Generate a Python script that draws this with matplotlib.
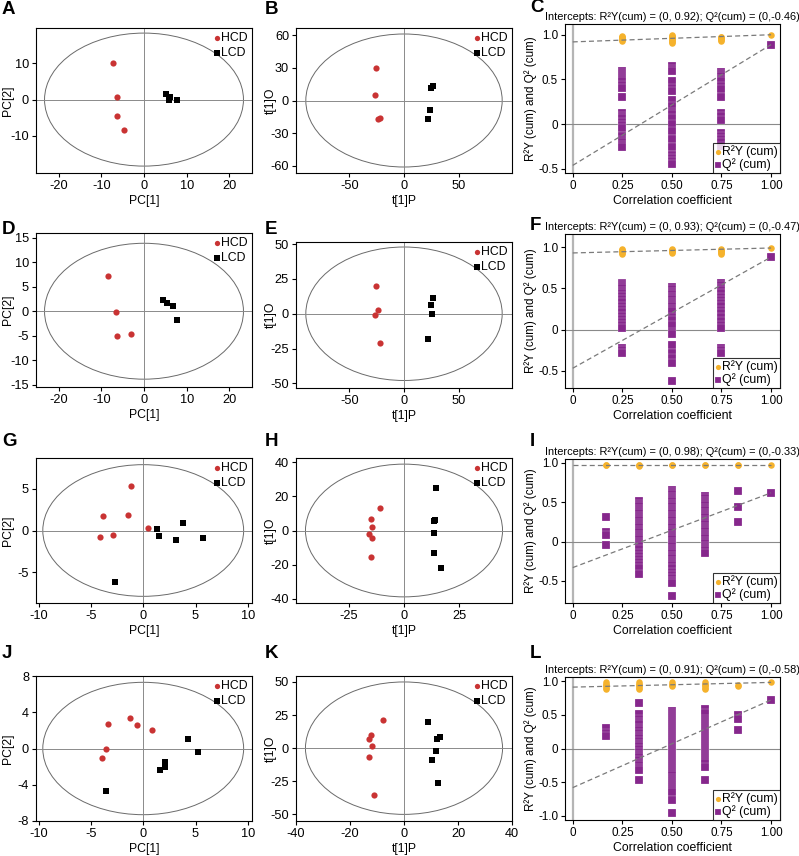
import matplotlib
matplotlib.use('Agg')
import matplotlib.pyplot as plt
from matplotlib.patches import Ellipse

plt.rcParams['font.family'] = ['Liberation Sans', 'DejaVu Sans']
plt.rcParams['axes.unicode_minus'] = False
plt.rcParams['font.size'] = 8

# ---------------- data ----------------
groups = ['HCD', 'LCD']

# A (PCA)
A_hcd_x = [-7.2, -6.4, -6.4, -4.8]
A_hcd_y = [10.1, 0.8, -4.5, -8.4]
A_lcd_x = [5.1, 6.2, 5.9, 7.7]
A_lcd_y = [1.5, 0.8, 0.0, -0.2]
# B (OPLS-DA)
B_hcd_x = [-25.3, -26.8, -24.0, -21.6]
B_hcd_y = [29.5, 4.6, -17.4, -16.5]
B_lcd_x = [26.5, 25.0, 23.8, 22.0]
B_lcd_y = [13.7, 11.6, -9.1, -16.8]
# D
D_hcd_x = [-8.4, -6.5, -6.4, -3.1]
D_hcd_y = [7.3, -0.2, -5.1, -4.6]
D_lcd_x = [4.4, 5.5, 6.8, 7.8]
D_lcd_y = [2.2, 1.7, 1.1, -1.8]
# E
E_hcd_x = [-25.3, -24.0, -26.8, -21.6]
E_hcd_y = [19.9, 2.4, -0.7, -21.3]
E_lcd_x = [26.5, 24.7, 25.6, 22.0]
E_lcd_y = [11.5, 6.5, 0.0, -18.2]
# G
G_hcd_x = [-1.15, -3.8, -1.5, 0.5, -2.9, -4.1]
G_hcd_y = [5.34, 1.75, 1.83, 0.28, -0.56, -0.8]
G_lcd_x = [1.3, 1.5, 3.76, 3.1, 5.7, -2.7]
G_lcd_y = [0.2, -0.64, 0.88, -1.1, -0.92, -6.2]
# H
H_hcd_x = [-11.0, -14.8, -14.4, -15.9, -14.7, -14.8]
H_hcd_y = [13.4, 6.8, 2.0, -1.8, -4.7, -15.6]
H_lcd_x = [14.5, 13.9, 13.7, 13.7, 13.6, 16.9]
H_lcd_y = [24.8, 6.2, 5.6, -1.4, -13.3, -22.0]
# J
J_hcd_x = [-3.4, -1.3, -0.64, 0.86, -3.6, -3.9]
J_hcd_y = [2.7, 3.36, 2.6, 2.0, 0.0, -1.1]
J_lcd_x = [4.3, 5.2, 2.07, 2.07, 1.56, -3.6]
J_lcd_y = [1.1, -0.37, -1.55, -2.1, -2.4, -4.7]
# K
K_hcd_x = [-7.9, -12.3, -13.1, -11.7, -13.1, -11.0]
K_hcd_y = [21.0, 9.8, 6.6, 1.8, -6.8, -35.0]
K_lcd_x = [8.8, 12.3, 13.5, 11.9, 10.5, 12.5]
K_lcd_y = [19.4, 6.6, 8.1, -1.8, -8.6, -26.3]

# Permutation tests
C_corr = [0.25, 0.50, 0.75, 1.00]
C_r2 = [[0.93, 0.94, 0.95, 0.96, 0.97, 0.98, 0.99],
        [0.91, 0.92, 0.93, 0.94, 0.95, 0.96, 0.97, 0.98, 0.99, 1.00],
        [0.93, 0.94, 0.95, 0.96, 0.97, 0.98],
        [1.00]]
C_q2 = [[0.59, 0.57, 0.55, 0.53, 0.51, 0.48, 0.44, 0.40, 0.30, 0.12, 0.09, 0.07, 0.03,
         -0.01, -0.04, -0.13, -0.18, -0.20, -0.23, -0.25],
        [0.65, 0.62, 0.59, 0.48, 0.40, 0.37, 0.27, 0.20, 0.14, 0.11, 0.07, 0.0, -0.08,
         -0.16, -0.25, -0.34, -0.38, -0.41, -0.44],
        [0.58, 0.56, 0.54, 0.51, 0.48, 0.43, 0.39, 0.30, 0.12, 0.09, 0.05, -0.10, -0.13,
         -0.16, -0.20, -0.24],
        [0.89]]
C_int = (0.92, -0.46)

F_corr = [0.25, 0.50, 0.75, 1.00]
F_r2 = [[0.92, 0.93, 0.94, 0.95, 0.96, 0.97, 0.98],
        [0.93, 0.94, 0.95, 0.96, 0.97, 0.98],
        [0.92, 0.93, 0.94, 0.95, 0.96, 0.97, 0.98],
        [0.99]]
F_q2 = [[0.57, 0.55, 0.53, 0.51, 0.47, 0.44, 0.41, 0.37, 0.33, 0.29, 0.25, 0.21, 0.17,
         0.13, 0.09, 0.05, 0.02, -0.22, -0.25, -0.28],
        [0.52, 0.49, 0.46, 0.43, 0.40, 0.37, 0.34, 0.31, 0.28, 0.25, 0.22, 0.15, 0.12,
         0.05, -0.03, -0.06, -0.19, -0.29, -0.35, -0.41, -0.62],
        [0.57, 0.54, 0.51, 0.48, 0.44, 0.40, 0.36, 0.32, 0.28, 0.24, 0.20, 0.15, 0.10,
         0.06, 0.02, -0.22, -0.25, -0.28],
        [0.88]]
F_int = (0.93, -0.47)

I_corr = [0.167, 0.333, 0.50, 0.667, 0.833, 1.00]
I_r2 = [[0.97, 0.98], [0.96, 0.97, 0.98], [0.97, 0.98], [0.97, 0.98], [0.97, 0.98], [0.98]]
I_q2 = [[0.31, 0.12, 0.09, -0.04],
        [0.51, 0.48, 0.45, 0.42, 0.39, 0.36, 0.33, 0.30, 0.27, 0.24, 0.21, 0.18, 0.15,
         0.12, 0.09, 0.06, 0.03, 0.0, -0.03, -0.06, -0.10, -0.14, -0.18, -0.22, -0.26,
         -0.30, -0.33, -0.41],
        [0.66, 0.63, 0.60, 0.57, 0.54, 0.51, 0.48, 0.45, 0.42, 0.39, 0.36, 0.33, 0.30,
         0.27, 0.24, 0.21, 0.18, 0.15, 0.12, 0.09, 0.06, 0.03, 0.0, -0.03, -0.06, -0.09,
         -0.12, -0.15, -0.18, -0.21, -0.24, -0.27, -0.30, -0.33, -0.38, -0.42, -0.46,
         -0.50, -0.53, -0.69],
        [0.58, 0.55, 0.52, 0.49, 0.46, 0.43, 0.40, 0.37, 0.34, 0.31, 0.28, 0.25, 0.22,
         0.19, 0.16, 0.13, 0.10, 0.07, 0.04, 0.01, -0.02, -0.05, -0.08, -0.11, -0.15],
        [0.64, 0.44, 0.25],
        [0.62]]
I_int = (0.98, -0.33)

L_corr = [0.167, 0.333, 0.50, 0.667, 0.833, 1.00]
L_r2 = [[0.88, 0.90, 0.92, 0.94, 0.96, 0.98],
        [0.88, 0.90, 0.92, 0.94, 0.96, 0.98],
        [0.92, 0.94, 0.96, 0.98],
        [0.88, 0.90, 0.92, 0.94, 0.96, 0.98],
        [0.92, 0.94],
        [0.98]]
L_q2 = [[0.30, 0.23, 0.18],
        [0.68, 0.51, 0.44, 0.40, 0.36, 0.31, 0.27, 0.23, 0.19, 0.15, 0.11, 0.07, 0.03,
         -0.01, -0.05, -0.09, -0.13, -0.17, -0.21, -0.25, -0.29, -0.32, -0.46],
        [0.56, 0.53, 0.50, 0.47, 0.44, 0.41, 0.38, 0.35, 0.32, 0.29, 0.26, 0.23, 0.20,
         0.17, 0.14, 0.11, 0.08, 0.05, 0.02, -0.01, -0.04, -0.07, -0.10, -0.13, -0.16,
         -0.19, -0.22, -0.25, -0.28, -0.31, -0.34, -0.37, -0.40, -0.43, -0.46, -0.49,
         -0.52, -0.55, -0.58, -0.61, -0.64, -0.76, -0.96],
        [0.58, 0.52, 0.44, 0.41, 0.38, 0.35, 0.32, 0.29, 0.26, 0.23, 0.20, 0.17, 0.14,
         0.11, 0.08, 0.05, 0.02, -0.01, -0.04, -0.07, -0.10, -0.13, -0.16, -0.19, -0.22,
         -0.27, -0.46],
        [0.49, 0.43, 0.28],
        [0.72]]
L_int = (0.91, -0.58)

# ---------------- styling ----------------
W, H = 799, 856
RED = '#c93333'
ORANGE = '#f5b22c'
PURPLE = '#86278c'
GRAY = '#7a7a7a'

fig = plt.figure(figsize=(W / 100, H / 100), dpi=100)


def add_ax(l, t, r, b):
    return fig.add_axes([l / W, 1 - b / H, (r - l) / W, (b - t) / H])


def style(ax, ls):
    for s in ax.spines.values():
        s.set_linewidth(0.8)
    ax.tick_params(direction='out', length=3, width=0.8, labelsize=ls, pad=2,
                   top=False, right=False)


def place_ylabel(ax, right_px):
    # right edge (pixels) of the rotated y label
    pos = ax.get_position()
    left = pos.x0 * W
    width = pos.width * W
    ax.yaxis.set_label_coords((right_px - left) / width, 0.5)


def score(ax, hx, hy, lx, ly, ew, eh, xlim, ylim, xt, yt, xl, yl, lab_r):
    ax.add_patch(Ellipse((0, 0), 2 * ew, 2 * eh, fill=False, ec='#6a6a6a', lw=0.7))
    ax.axhline(0, color='#8a8a8a', lw=0.7, zorder=1)
    ax.axvline(0, color='#8a8a8a', lw=0.7, zorder=1)
    ax.scatter(hx, hy, s=20, c=RED, marker='o', linewidths=0, label=groups[0], zorder=3)
    ax.scatter(lx, ly, s=20, c='black', marker='s', linewidths=0, label=groups[1], zorder=3)
    ax.set_xlim(*xlim)
    ax.set_ylim(*ylim)
    ax.set_xticks(xt)
    ax.set_yticks(yt)
    ax.set_xlabel(xl, fontsize=8.8, labelpad=2)
    ax.set_ylabel(yl, fontsize=8.8)
    place_ylabel(ax, lab_r)
    style(ax, 9.2)
    ax.legend(loc='upper right', frameon=False, handlelength=0.4, handletextpad=0.15,
              borderaxespad=0.15, borderpad=0.2, labelspacing=0.2, fontsize=8.8,
              markerscale=0.85)


def perm(ax, corr, r2, q2, ints, ylim, yt, ytl):
    ax.axvline(0, color='#b5b5b5', lw=1.6, zorder=1)
    ax.axhline(0, color='#8a8a8a', lw=0.8, zorder=1)
    for i, (c, vals) in enumerate(zip(corr, q2)):
        ax.scatter([c] * len(vals), vals, marker='s', s=26, c=PURPLE, edgecolors='white',
                   linewidths=0.15, zorder=2, label='Q² (cum)' if i == 0 else None)
    for i, (c, vals) in enumerate(zip(corr, r2)):
        ax.scatter([c] * len(vals), vals, marker='o', s=22, c=ORANGE, linewidths=0,
                   zorder=2, label='R²Y (cum)' if i == 0 else None)
    ax.plot([0, corr[-1]], [ints[0], r2[-1][0]], ls=(0, (4, 2.5)), color=GRAY, lw=0.9, zorder=4)
    ax.plot([0, corr[-1]], [ints[1], q2[-1][0]], ls=(0, (4, 2.5)), color=GRAY, lw=0.9, zorder=4)
    ax.set_xlim(-0.039, 1.045)
    ax.set_ylim(*ylim)
    ax.set_xticks([0, 0.25, 0.5, 0.75, 1.0])
    ax.set_xticklabels(['0', '0.25', '0.50', '0.75', '1.00'])
    ax.set_yticks(yt)
    ax.set_yticklabels(ytl)
    ax.set_xlabel('Correlation coefficient', fontsize=8.8, labelpad=2)
    ax.set_ylabel('R²Y (cum) and Q² (cum)', fontsize=8.4)
    place_ylabel(ax, 537)
    ax.set_title('Intercepts: R²Y(cum) = (0, %.2f); Q²(cum) = (0,%.2f)' % ints,
                 fontsize=7.9, pad=3)
    style(ax, 8.4)
    hs, ls = ax.get_legend_handles_labels()
    order = [1, 0]
    leg = ax.legend([hs[i] for i in order], [ls[i] for i in order], loc='lower right',
                    frameon=True, fancybox=False, edgecolor='black', borderaxespad=0,
                    handlelength=0.4, handletextpad=0.2, borderpad=0.15,
                    labelspacing=0.05, fontsize=8.8, markerscale=0.8)
    leg.get_frame().set_linewidth(0.8)


def letter(x, y, s):
    fig.text(x / W, 1 - y / H, s, fontsize=13.5, fontweight='bold', ha='left', va='center')


cols = [(36, 252), (296, 512), (565, 780)]
LAB_A, LAB_B = 14, 277

axA = add_ax(36, 28, 252, 173)
score(axA, A_hcd_x, A_hcd_y, A_lcd_x, A_lcd_y, 23.3, 18.3, (-25.3, 25.3), (-20.2, 19.7),
      [-20, -10, 0, 10, 20], [-10, 0, 10], 'PC[1]', 'PC[2]', LAB_A)
axB = add_ax(296, 28, 512, 173)
score(axB, B_hcd_x, B_hcd_y, B_lcd_x, B_lcd_y, 90, 61, (-99, 99), (-66.5, 66.5),
      [-50, 0, 50], [-60, -30, 0, 30, 60], 't[1]P', 't[1]O', LAB_B)
axC = add_ax(565, 24, 780, 173)
perm(axC, C_corr, C_r2, C_q2, C_int, (-0.545, 1.12), [-0.5, 0, 0.5, 1.0],
     ['-0.5', '0', '0.5', '1.0'])

axD = add_ax(36, 233, 252, 387)
score(axD, D_hcd_x, D_hcd_y, D_lcd_x, D_lcd_y, 23.3, 13.9, (-25.3, 25.3), (-15.5, 16.0),
      [-20, -10, 0, 10, 20], [-15, -10, -5, 0, 5, 10, 15], 'PC[1]', 'PC[2]', LAB_A)
axE = add_ax(296, 242, 512, 388)
score(axE, E_hcd_x, E_hcd_y, E_lcd_x, E_lcd_y, 90, 48, (-99, 99), (-53.4, 51.6),
      [-50, 0, 50], [-50, -25, 0, 25, 50], 't[1]P', 't[1]O', LAB_B)
axF = add_ax(565, 234, 780, 388)
perm(axF, F_corr, F_r2, F_q2, F_int, (-0.71, 1.16), [-0.5, 0, 0.5, 1.0],
     ['-0.5', '0', '0.5', '1.0'])

axG = add_ax(36, 458, 252, 603)
score(axG, G_hcd_x, G_hcd_y, G_lcd_x, G_lcd_y, 9.6, 7.9, (-10.25, 10.4), (-8.7, 8.7),
      [-10, -5, 0, 5, 10], [-5, 0, 5], 'PC[1]', 'PC[2]', LAB_A)
axH = add_ax(296, 458, 512, 603)
score(axH, H_hcd_x, H_hcd_y, H_lcd_x, H_lcd_y, 44.7, 39, (-49, 49), (-42.6, 42.6),
      [-25, 0, 25], [-40, -20, 0, 20, 40], 't[1]P', 't[1]O', LAB_B)
axI = add_ax(565, 459, 780, 603)
perm(axI, I_corr, I_r2, I_q2, I_int, (-0.78, 1.05), [-0.5, 0, 0.5, 1.0],
     ['-0.5', '0', '0.5', '1.0'])

axJ = add_ax(36, 676, 252, 821)
score(axJ, J_hcd_x, J_hcd_y, J_lcd_x, J_lcd_y, 9.6, 7.35, (-10.25, 10.4), (-8.05, 8.05),
      [-10, -5, 0, 5, 10], [-8, -4, 0, 4, 8], 'PC[1]', 'PC[2]', LAB_A)
axK = add_ax(296, 676, 512, 821)
score(axK, K_hcd_x, K_hcd_y, K_lcd_x, K_lcd_y, 36.5, 50, (-40, 40), (-55, 54.5),
      [-40, -20, 0, 20, 40], [-50, -25, 0, 25, 50], 't[1]P', 't[1]O', LAB_B)
axL = add_ax(565, 677, 780, 820)
perm(axL, L_corr, L_r2, L_q2, L_int, (-1.06, 1.06), [-1.0, -0.5, 0, 0.5, 1.0],
     ['-1.0', '-0.5', '0', '0.5', '1.0'])

letter(2, 10, 'A'); letter(265, 10, 'B'); letter(530, 8, 'C')
letter(2, 230, 'D'); letter(265, 230, 'E'); letter(530, 225, 'F')
letter(2, 442, 'G'); letter(265, 442, 'H'); letter(530, 442, 'I')
letter(2, 654, 'J'); letter(265, 654, 'K'); letter(530, 654, 'L')

fig.savefig('out.png', dpi=100)
